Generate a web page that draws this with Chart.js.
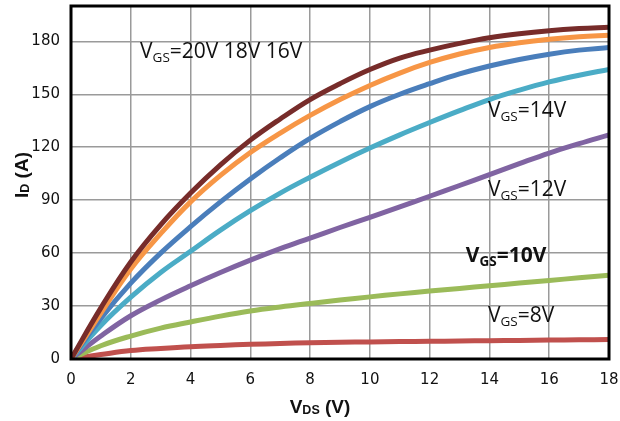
<!DOCTYPE html>
<html><head><meta charset="utf-8">
<script src="https://cdn.jsdelivr.net/npm/chart.js@4"></script>
<style>html,body{margin:0;padding:0;background:#fff}#wrap{width:620px;height:421px}</style>
</head><body><div id="wrap"><canvas id="c" width="620" height="421"></canvas></div>
<script>
// V_DS values (V)
const vds   = [0, 1, 2, 3, 4, 5, 6, 7, 8, 9, 10, 11, 12, 13, 14, 15, 16, 17, 18];
// I_D (A) per gate voltage
const id20V = [0, 29, 55, 76, 94, 110, 124, 136, 147, 156, 164, 170.5, 175, 178.8, 182, 184.3, 186, 187.2, 188];
const id18V = [0, 26, 51, 71, 89, 104, 117, 128, 138, 147, 155, 162, 168, 172.8, 176.5, 179.2, 181.2, 182.6, 183.5];
const id16V = [0, 23, 43, 60, 75, 89, 102, 114, 125, 134.5, 143, 150, 156, 161.5, 166, 169.7, 172.7, 175, 176.5];
const id14V = [0, 19, 35, 49, 61, 73, 84, 94, 103, 111.5, 119.5, 127, 134, 140.7, 147, 152.3, 157, 160.8, 164];
const id12V = [0, 13, 24.5, 33.5, 41.5, 49, 56, 62.5, 68.5, 74.5, 80.3, 86.2, 92.2, 98.3, 104.5, 110.7, 116.7, 122, 127];
const id10V = [0, 7.5, 13, 17.5, 21, 24.3, 27.2, 29.5, 31.5, 33.4, 35.2, 36.9, 38.5, 40, 41.5, 43, 44.5, 46, 47.5];
const id8V  = [0, 2.5, 4.8, 6, 7, 7.7, 8.3, 8.8, 9.2, 9.5, 9.7, 9.9, 10.05, 10.2, 10.35, 10.5, 10.7, 10.9, 11];

const seriesNames = ['VGS=20V', 'VGS=18V', 'VGS=16V', 'VGS=14V', 'VGS=12V', 'VGS=10V', 'VGS=8V'];
const seriesData  = [id20V, id18V, id16V, id14V, id12V, id10V, id8V];
const seriesColors = ['#772C2A', '#F79646', '#4A7EBB', '#4BACC6', '#8064A2', '#9BBB59', '#C0504D'];

const xTicks = [0, 2, 4, 6, 8, 10, 12, 14, 16, 18];
const yTicks = [0, 30, 60, 90, 120, 150, 180];

// in-plot annotations: [main, subscript, rest, bold] anchored at (V_DS, I_D)
const noteText = [
  ['V', 'GS', '=20V 18V 16V', false],
  ['V', 'GS', '=14V', false],
  ['V', 'GS', '=12V', false],
  ['V', 'GS', '=10V', true],
  ['V', 'GS', '=8V', false]
];
const noteAnchorX = [2.31, 13.95, 13.95, 13.21, 13.95];
const noteAnchorY = [170.5, 136.9, 92.2, 55.1, 21.2];

function drawRich(ctx, parts, x, y, mainFont, subFont, subDy, align) {
  let w = 0;
  for (const p of parts) { ctx.font = p.sub ? subFont : mainFont; w += ctx.measureText(p.t).width; }
  let cx = align === 'center' ? x - w / 2 : x;
  ctx.textAlign = 'left';
  ctx.textBaseline = 'alphabetic';
  for (const p of parts) {
    ctx.font = p.sub ? subFont : mainFont;
    ctx.fillText(p.t, cx, y + (p.sub ? subDy : 0));
    cx += ctx.measureText(p.t).width;
  }
}

const decor = {
  id: 'decor',
  afterDatasetsDraw(chart) {
    const {ctx, chartArea: a, scales} = chart;
    ctx.save();
    ctx.strokeStyle = '#000';
    ctx.lineWidth = 3;
    ctx.strokeRect(a.left, a.top, a.right - a.left, a.bottom - a.top);
    ctx.fillStyle = '#111';
    noteText.forEach((n, i) => {
      const px = scales.x.getPixelForValue(noteAnchorX[i]);
      const py = scales.y.getPixelForValue(noteAnchorY[i]);
      const b = n[3] ? 'bold ' : '';
      drawRich(ctx, [{t: n[0]}, {t: n[1], sub: true}, {t: n[2]}], px, py,
        b + '21px "Open Sans"', b + '13.5px "Open Sans"', 4, 'left');
    });
    // axis titles
    const mf = 'bold 19px "Liberation Sans"', sf = 'bold 12.5px "Liberation Sans"';
    drawRich(ctx, [{t: 'V'}, {t: 'DS', sub: true}, {t: ' (V)'}], 320, 413, mf, sf, 1, 'center');
    ctx.translate(28, 175);
    ctx.rotate(-Math.PI / 2);
    drawRich(ctx, [{t: 'I'}, {t: 'D', sub: true}, {t: ' (A)'}], 0, 0, mf, sf, 1, 'center');
    ctx.restore();
  }
};

const tickFont = {family: '"DejaVu Sans"', size: 15};
new Chart(document.getElementById('c'), {
  type: 'line',
  data: {
    datasets: seriesData.map((arr, i) => ({
      label: seriesNames[i],
      data: vds.map((v, j) => ({x: v, y: arr[j]})),
      borderColor: seriesColors[i],
      backgroundColor: seriesColors[i],
      borderWidth: 5,
      pointRadius: 0,
      tension: 0.4,
      fill: false
    }))
  },
  options: {
    responsive: false,
    animation: false,
    layout: {padding: {left: 0, right: 11, top: 6, bottom: 0}},
    plugins: {legend: {display: false}, tooltip: {enabled: false}},
    scales: {
      x: {
        type: 'linear', min: 0, max: 18,
        afterBuildTicks(s) { s.ticks = xTicks.map(v => ({value: v})); },
        afterFit(s) { s.height = 62; s.paddingLeft = 0; s.paddingRight = 0; },
        ticks: {padding: 12, color: '#111', font: tickFont},
        grid: {color: '#9a9a9a', lineWidth: 1.5, drawTicks: false},
        border: {display: false}
      },
      y: {
        type: 'linear', min: 0, max: 200,
        afterBuildTicks(s) { s.ticks = yTicks.map(v => ({value: v})); },
        afterFit(s) { s.width = 71; s.paddingTop = 0; s.paddingBottom = 0; },
        ticks: {padding: 11, color: '#111', font: tickFont},
        grid: {color: '#9a9a9a', lineWidth: 1.5, drawTicks: false},
        border: {display: false}
      }
    }
  },
  plugins: [decor]
});
</script>
</body></html>
